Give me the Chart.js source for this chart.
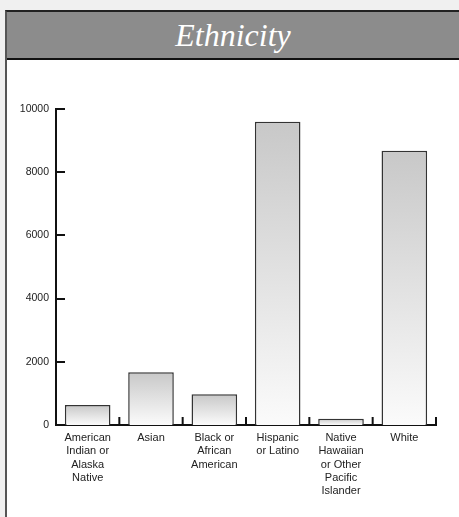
<!DOCTYPE html>
<html>
<head>
<meta charset="utf-8">
<script src="https://cdn.jsdelivr.net/npm/chart.js@4/dist/chart.umd.min.js"></script>
<style>
  html, body { margin: 0; padding: 0; background: #f0f0f0; width: 459px; height: 517px; overflow: hidden; }
  #panel {
    position: absolute; left: 5px; top: 10px; width: 470px; height: 520px;
    background: #ffffff; border-left: 2px solid #555; border-top: 2px solid #222;
  }
  #header {
    height: 46px; background: #8c8c8c; border-bottom: 2px solid #111;
    color: #ffffff; font-family: "Liberation Serif", "DejaVu Serif", serif; font-style: italic;
    font-size: 32px; line-height: 46px; width: 452px; text-align: center;
  }
  #chart { position: absolute; left: 0; top: 0; }
</style>
</head>
<body>
<div id="panel"><div id="header">Ethnicity</div></div>
<canvas id="chart" width="459" height="517"></canvas>
<script>
// Ethnic groups and head counts
const categories = [
  ["American", "Indian or", "Alaska", "Native"],
  ["Asian"],
  ["Black or", "African", "American"],
  ["Hispanic", "or Latino"],
  ["Native", "Hawaiian", "or Other", "Pacific", "Islander"],
  ["White"]
];
const counts = [630, 1670, 970, 9600, 200, 8680];
const yTicks = [0, 2000, 4000, 6000, 8000, 10000];

// Each bar fades from light grey at its top to near white at the baseline
function barGradient(ctx) {
  const chart = ctx.chart;
  const y = chart.scales.y;
  if (!y || typeof ctx.raw !== 'number') return '#e2e2e2';
  const top = y.getPixelForValue(ctx.raw);
  const base = y.getPixelForValue(0);
  if (!isFinite(top) || !isFinite(base) || base <= top) return '#e2e2e2';
  const g = chart.ctx.createLinearGradient(0, top, 0, base);
  g.addColorStop(0, '#c8c8c8');
  g.addColorStop(1, '#fbfbfb');
  return g;
}

// Short tick marks pointing into the plot: right of the y axis, up from the x axis
const innerTicks = {
  id: 'innerTicks',
  afterDatasetsDraw(chart) {
    const { ctx, scales: { x, y } } = chart;
    ctx.save();
    ctx.strokeStyle = '#111';
    ctx.lineWidth = 2;
    ctx.beginPath();
    yTicks.forEach(v => {
      const py = Math.round(y.getPixelForValue(v));
      ctx.moveTo(x.left, py);
      ctx.lineTo(x.left + 9, py);
    });
    const base = y.getPixelForValue(0);
    for (let i = 0; i <= categories.length; i++) {
      const px = x.getPixelForValue(i - 0.5);
      ctx.moveTo(px, base);
      ctx.lineTo(px, base - 8);
    }
    ctx.stroke();
    ctx.restore();
  }
};

new Chart(document.getElementById('chart'), {
  type: 'bar',
  data: {
    labels: categories,
    datasets: [{
      data: counts,
      backgroundColor: barGradient,
      borderColor: '#333',
      borderWidth: 1.5,
      borderSkipped: 'bottom',
      barPercentage: 0.72,
      categoryPercentage: 1
    }]
  },
  options: {
    responsive: false,
    devicePixelRatio: 1,
    animation: false,
    layout: { padding: { top: 109, right: 23, left: 0, bottom: 0 } },
    plugins: { legend: { display: false }, tooltip: { enabled: false } },
    scales: {
      x: {
        type: 'category',
        offset: true,
        grid: { display: false, drawTicks: false },
        border: { display: true, color: '#111', width: 2 },
        ticks: {
          autoSkip: false, maxRotation: 0, minRotation: 0, padding: 6,
          color: '#222',
          font: { family: '"Liberation Sans", Arial, sans-serif', size: 11, lineHeight: 1.22 }
        },
        afterFit(scale) { scale.height = 92; }
      },
      y: {
        min: 0, max: 10000,
        afterBuildTicks(scale) { scale.ticks = yTicks.map(v => ({ value: v })); },
        grid: { display: false, drawTicks: false },
        border: { display: true, color: '#111', width: 2 },
        ticks: {
          padding: 7, color: '#222',
          font: { family: '"Liberation Sans", Arial, sans-serif', size: 10.5 },
          callback: v => String(v)
        },
        afterFit(scale) { scale.width = 56; }
      }
    }
  },
  plugins: [innerTicks]
});
</script>
</body>
</html>
